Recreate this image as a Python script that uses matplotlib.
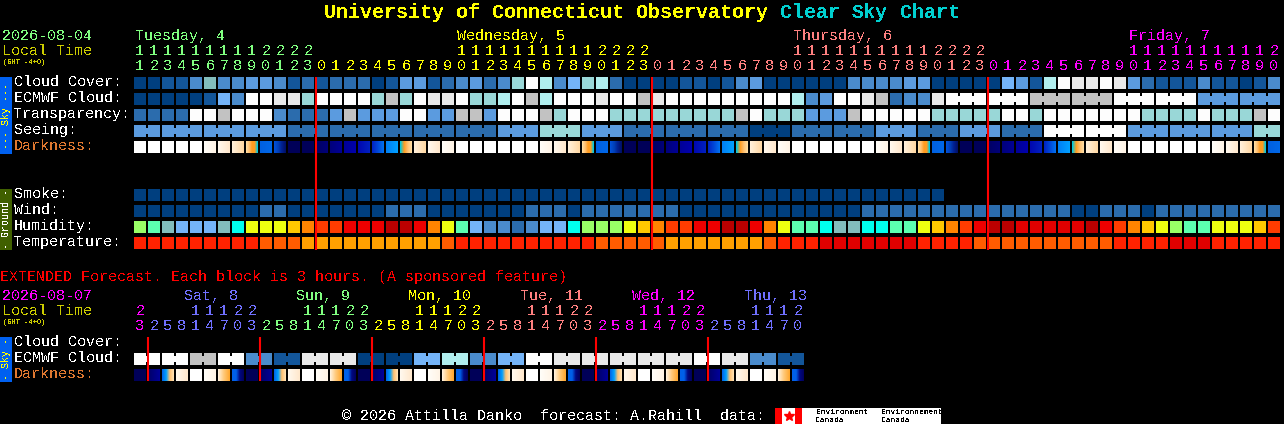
import numpy as np
import matplotlib
matplotlib.use('Agg')
import matplotlib.pyplot as plt
from matplotlib.colors import to_rgb

plt.rcParams['font.family'] = ['Liberation Mono', 'DejaVu Sans Mono']
plt.rcParams['text.antialiased'] = False

# Colour codes of the blocks
palette = {
    'a': '#003f7f', 'b': '#13569a', 'c': '#2b6cad', 'd': '#4a8bcc', 'e': '#5b9bdf', 'f': '#74b4f8',
    'g': '#82bdbd', 'h': '#99d7d7', 'i': '#b0eeee', 'w': '#fdfdfd', 'x': '#e9e9e9', 'y': '#c2c2c2',
    'L': '#99ff66', 'M': '#5cffb0', 'Y': '#00ffee', 'G': '#eeff10', 'A': '#ffc800', 'O': '#ff8400',
    'R': '#ff3c00', 'E': '#ee0000', 'K': '#bb0000', 'Z': '#e00000',
    'r': '#ff2200', 's': '#ff5c00', 't': '#ffa000',
}

# Darkness blocks fade from left to right
dark_styles = {
    'W': ['#ffffff', '#ffffff'],
    '1': ['#fffdf8', '#fff4e6'],
    '2': ['#fff8ee', '#ffe8cc'],
    '3': ['#fff0da', '#ffd8a4'],
    'O': ['#ffdca0', '#ffc070', '#ff9c20', '#ff9c20', '#00c8e0'],
    'B': ['#0060e0', '#0068e8'],
    'S': ['#0050d8', '#0040b8', '#002090', '#001068'],
    'D': ['#000058', '#000058'],
    'N': ['#000064', '#000078'],
    'M': ['#00007c', '#000094'],
    'P': ['#000098', '#0000ac'],
    'Q': ['#0008b0', '#0020c0'],
    'T': ['#0024c4', '#0048d8', '#0070f0'],
    'U': ['#0080f4', '#00a0ff'],
    'V': ['#00c8e0', '#ff9c20', '#ffc070', '#ffdca0'],
    'E': ['#000068', '#000098'],
    'X': ['#0068e8', '#00a0ff', '#ffc070', '#ffe0b0'],
    'F': ['#fff0da', '#ffc878', '#ffa830'],
    'H': ['#0060e8', '#0060e8', '#000880', '#000060'],
}

cloud_cover = list('aabbdgddeedbc' + 'bcccabeebcdecdhwidfhicaa' + 'aabbabdeaaaaaaddddeeaaaa' + 'afebiwxxwxecbbbdbbabd')
ecmwf_cloud = list('aaaaabfdwwxxh' + 'wwwwhyhwxxwhhiwyiwwwxwwy' + 'xwwwwwwwwwidewwxycddxwww' + 'wwwyyyyyywwwwwweeeeee')
transparency = list('ccccwwywwwdcc' + 'ceyeeewweeyyewwwyhwwwhhh' + 'hhhhhhywhhheeeywwwwwhhhh' + 'hwwhwwwwwwwhhhhwhhhyw')
seeing = list('eeeeeeeeeeecc' + 'ccccccccccccceeehhheeecc' + 'cccccccaaacccccceeecccee' + 'ecccwwwwwweeeeeeeeehh')
darkness = list('WWWWW123OBSDD' + 'NMPQTUV321WWWWWW123OBSDD' + 'NMPQTUV321WWWWWW123OBSDD' + 'NMPQTUV321WWWWWW123OB')

smoke = list('aaaaaaaaaaaaa' + 'aaaaaaaaaaaaaaaaaaaaaaaa' + 'aaaaaaaaaaaaaaaaaaaaa')
wind = list('aaaaaaaaaccaa' + 'aaaaacccaaaaaaacccaccccc' + 'ccaaaaaaaaaaaaaccccccccc' + 'ccccccaacccaccccccccc')
humidity = list('LMgfffgYGGGAO' + 'RREEEKKEOGMfddcdffYLLLGA' + 'ORREEKKEOGMMYggYYMMGAORE' + 'KKZZZZZKEROAGLMMGGGAR')
temperature = list('rrrrrrrrrssst' + 'tttttttttsrrrrrrrrrrssss' + 'stttttttsrrrZZZZZZZrrrrs' + 'sssssssssrrrrZZZrrrrr')

# Extended forecast, one code for each 3 hour pair of columns
ext_ecmwf = list('wwywdbxxaafidfwxxxxxwxdb')
ext_darkness = list('DEX2W1FH' 'DEX2W1FH' 'DEX2W1FH' 'DEX2W1FH' 'DEX2W1FH' 'DEX2W1FH')

main_hours = [11, 12, 13, 14, 15, 16, 17, 18, 19, 20, 21, 22, 23,
              0, 1, 2, 3, 4, 5, 6, 7, 8, 9, 10, 11, 12, 13, 14, 15, 16, 17, 18, 19, 20, 21, 22, 23,
              0, 1, 2, 3, 4, 5, 6, 7, 8, 9, 10, 11, 12, 13, 14, 15, 16, 17, 18, 19, 20, 21, 22, 23,
              0, 1, 2, 3, 4, 5, 6, 7, 8, 9, 10, 11, 12, 13, 14, 15, 16, 17, 18, 19, 20]
ext_hours = [23,
             2, 5, 8, 11, 14, 17, 20, 23, 2, 5, 8, 11, 14, 17, 20, 23,
             2, 5, 8, 11, 14, 17, 20, 23, 2, 5, 8, 11, 14, 17, 20, 23,
             2, 5, 8, 11, 14, 17, 20, 23, 2, 5, 8, 11, 14, 17, 20]

main_days = ['Tuesday, 4', 'Wednesday, 5', 'Thursday, 6', 'Friday, 7']
main_day_cols = [0, 23, 47, 71]
main_day_starts = [0, 13, 37, 61]
main_colors = ['#80ff80', '#ffff00', '#ff8080', '#ff00ff']

ext_days = ['Sat, 8', 'Sun, 9', 'Mon, 10', 'Tue, 11', 'Wed, 12', 'Thu, 13']
ext_day_cols = [3.6, 11.6, 19.6, 27.6, 35.6, 43.6]
ext_day_starts = [1, 9, 17, 25, 33, 41]
ext_colors = ['#7070ff', '#80ff80', '#ffff00', '#ff8080', '#ff00ff', '#7070ff']

main_midnights = [13, 37, 61]
ext_midnights = [1, 9, 17, 25, 33, 41]

X0 = 134
PITCH = 14
CELL = 12
TEXT_SIZE = 10.8
DIGIT_SIZE = 11


def col_x(col):
    return X0 + PITCH * col


def draw_row(ax, values, top, group_at=None, group_len=3):
    # group_at: column where the groups start, same coloured neighbours get a narrow strip
    xs = [col_x(i) for i in range(len(values))]
    ax.bar(xs, CELL, width=CELL, bottom=top, align='edge', antialiased=False,
           color=[palette[v] for v in values])
    if group_at is None:
        return
    for i in range(max(group_at, 0), len(values) - 1):
        if (i - group_at) % group_len != group_len - 1 and values[i] == values[i + 1]:
            ax.bar(col_x(i) + CELL, 6, width=2, bottom=top + 3, align='edge',
                   antialiased=False, color=palette[values[i]])


def draw_dark(ax, values, top):
    for i, v in enumerate(values):
        stops = np.array([to_rgb(c) for c in dark_styles[v]])
        pos = np.linspace(0, 1, len(stops))
        px = np.linspace(0, 1, CELL)
        img = np.stack([np.interp(px, pos, stops[:, k]) for k in range(3)], axis=1)[np.newaxis]
        ax.imshow(img, extent=(col_x(i), col_x(i) + CELL, top + CELL, top), aspect='auto',
                  interpolation='nearest', zorder=2)


def label(ax, x, y, s, color='white', size=TEXT_SIZE, **kw):
    ax.text(x, y, s, color=color, fontsize=size, ha='left', va='center', **kw)


def hour_labels(ax, hours, starts, colors, y_top, y_low):
    for i, h in enumerate(hours):
        day = max(k for k, s in enumerate(starts) if s <= i) if i >= starts[0] else -1
        c = colors[day] if day >= 0 else '#ff00ff'
        cx = col_x(i) + CELL / 2
        if h >= 10:
            ax.text(cx, y_top, str(h // 10), color=c, fontsize=DIGIT_SIZE, ha='center', va='center')
        ax.text(cx, y_low, str(h % 10), color=c, fontsize=DIGIT_SIZE, ha='center', va='center')


fig = plt.figure(figsize=(12.84, 4.24), dpi=100, facecolor='black')
ax = fig.add_axes([0, 0, 1, 1])
ax.set_facecolor('black')
ax.axis('off')

# Title, one word colour at a time
title_x = 324
title = [('University of Connecticut Observatory', '#ffff00', 0), ('Clear', '#00d0d0', 38),
         ('Sky', '#00d0d0', 44), ('Chart', '#00d0d0', 48)]
for word, c, offset in title:
    ax.text(title_x + offset * 12, 12, word, color=c, fontsize=14.4, fontweight='bold', ha='left', va='center')

# Main block headers
label(ax, 2, 36, '2026-08-04', '#80ff80')
label(ax, 2, 51, 'Local Time', '#cccc00')
label(ax, 3, 62, '(GMT -4+0)', '#cccc00', size=5)
for name, col, c in zip(main_days, main_day_cols, main_colors):
    label(ax, col_x(col) + 1, 36, name, c)
hour_labels(ax, main_hours, main_day_starts, main_colors, 51, 66)

sky_labels = ['Cloud Cover:', 'ECMWF Cloud:', 'Transparency:', 'Seeing:']
sky_tops = [77, 93, 109, 125]
for s, top in zip(sky_labels, sky_tops):
    label(ax, 14, top + 5, s)
label(ax, 14, 146, 'Darkness:', '#e07830')

draw_row(ax, cloud_cover, 77)
draw_row(ax, ecmwf_cloud, 93, group_at=58)
draw_row(ax, transparency, 109)
draw_row(ax, seeing, 125, group_at=-1)
draw_dark(ax, darkness, 141)

# Ground rows
ground_labels = ['Smoke:', 'Wind:', 'Humidity:', 'Temperature:']
ground_tops = [189, 205, 221, 237]
for s, top in zip(ground_labels, ground_tops):
    label(ax, 14, top + 5, s)
draw_row(ax, smoke[:58], 189)
draw_row(ax, wind, 205)
draw_row(ax, humidity, 221)
draw_row(ax, temperature, 237)

# Side bars
ax.bar(0, 77, width=12, bottom=77, align='edge', color='#0060f0', antialiased=False)
ax.text(6, 116, '--- Sky ---', color='#ffff00', fontsize=7.2, rotation=90, ha='center', va='center')
ax.bar(0, 61, width=12, bottom=189, align='edge', color='#406000', antialiased=False)
ax.text(6, 219, '- Ground -', color='white', fontsize=7.2, rotation=90, ha='center', va='center')
ax.bar(0, 45, width=12, bottom=337, align='edge', color='#0060f0', antialiased=False)
ax.text(6, 359, '- Sky -', color='#ffff00', fontsize=7.2, rotation=90, ha='center', va='center')

# Midnight lines
ax.vlines([col_x(c) for c in main_midnights], 77, 250, color='#ff0000', linewidth=1.5, zorder=5)

# Extended forecast
label(ax, 0, 277, 'EXTENDED Forecast. Each block is 3 hours. (A sponsored feature)', '#ff0000')
label(ax, 2, 296, '2026-08-07', '#ff00ff')
label(ax, 2, 311, 'Local Time', '#cccc00')
label(ax, 3, 322, '(GMT -4+0)', '#cccc00', size=5)
for name, col, c in zip(ext_days, ext_day_cols, ext_colors):
    label(ax, col_x(col), 296, name, c)
hour_labels(ax, ext_hours, ext_day_starts, ext_colors, 311, 326)

label(ax, 14, 342, 'Cloud Cover:')
label(ax, 14, 358, 'ECMWF Cloud:')
label(ax, 14, 374, 'Darkness:', '#e07830')

ext_cols = [v for v in ext_ecmwf for _ in range(2)]
draw_row(ax, ext_cols, 353, group_at=0, group_len=2)
draw_dark(ax, ext_darkness, 369)
ax.vlines([col_x(c) for c in ext_midnights], 337, 381, color='#ff0000', linewidth=1.5, zorder=5)

# Footer with the credit logo
label(ax, 342, 416, '\u00a9 2026 Attilla Danko  forecast: A.Rahill  data:')
ax.bar(775, 16, width=166, bottom=408, align='edge', color='white', antialiased=False)
ax.bar([775, 795], 16, width=7, bottom=408, align='edge', color='#ff0000', antialiased=False)
ax.plot([788.5], [415.5], marker='*', markersize=7, color='#ff0000', zorder=4)
for x, line1 in [(816, 'Environment'), (881, 'Environnement')]:
    ax.text(x, 412, line1, color='black', fontsize=5.8, ha='left', va='center')
    ax.text(x, 420, 'Canada', color='black', fontsize=5.8, ha='left', va='center')

ax.set_xlim(0, 1284)
ax.set_ylim(424, 0)
fig.savefig('out.png', dpi=100, facecolor='black')
